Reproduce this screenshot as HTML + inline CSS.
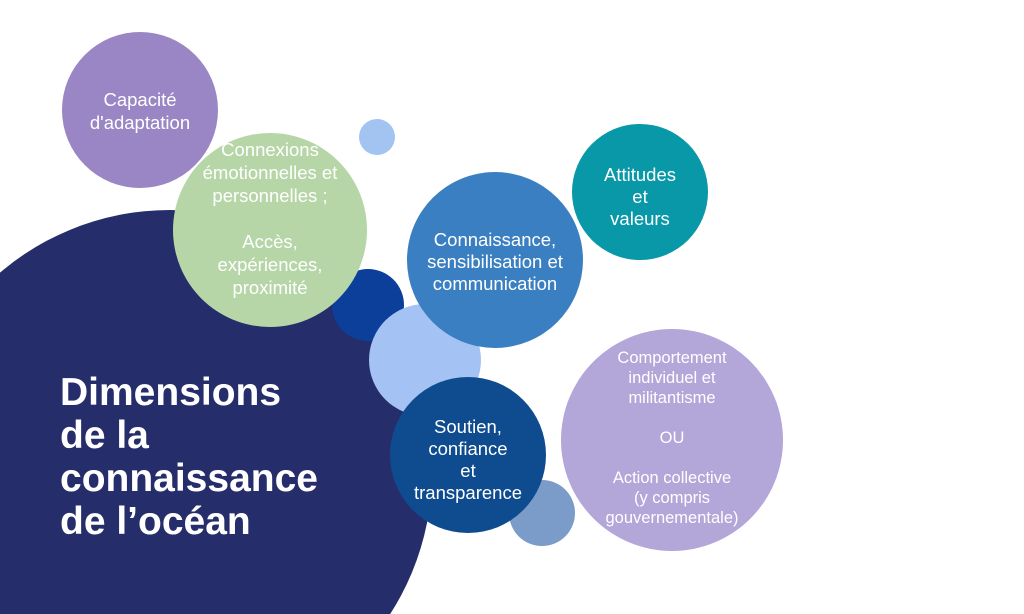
<!DOCTYPE html>
<html><head><meta charset="utf-8"><style>
html,body{margin:0;padding:0;background:#fff;width:1024px;height:614px;overflow:hidden;}
svg{display:block;font-family:"Liberation Sans",sans-serif;}
</style></head><body>
<svg width="1024" height="614" viewBox="0 0 1024 614">
<circle cx="170" cy="472" r="262" fill="#262d6b"/>
<circle cx="140" cy="110" r="78" fill="#9a86c5"/>
<circle cx="377" cy="137" r="18" fill="#a3c4f0"/>
<circle cx="368" cy="305" r="36" fill="#0b3f9a"/>
<circle cx="270" cy="230" r="97" fill="#b6d6a7"/>
<circle cx="425" cy="360" r="56" fill="#a4c2f4"/>
<circle cx="495" cy="260" r="88" fill="#3a7fc1"/>
<circle cx="640" cy="192" r="68" fill="#0898a8"/>
<circle cx="542" cy="513" r="33" fill="#7b9cc9"/>
<circle cx="672" cy="440" r="111" fill="#b3a6d8"/>
<circle cx="468" cy="455" r="78" fill="#0e4c8f"/>
<g fill="#fff" text-anchor="middle" font-size="18.5">
<text x="140" y="106">Capacité</text>
<text x="140" y="129">d'adaptation</text>
<text x="270" y="156">Connexions</text>
<text x="270" y="179">émotionnelles et</text>
<text x="270" y="202">personnelles ;</text>
<text x="270" y="248">Accès,</text>
<text x="270" y="271">expériences,</text>
<text x="270" y="294">proximité</text>
<text x="495" y="246">Connaissance,</text>
<text x="495" y="268">sensibilisation et</text>
<text x="495" y="290">communication</text>
<text x="640" y="181">Attitudes</text>
<text x="640" y="203">et</text>
<text x="640" y="225">valeurs</text>
<text x="468" y="433">Soutien,</text>
<text x="468" y="455">confiance</text>
<text x="468" y="477">et</text>
<text x="468" y="499">transparence</text>
<g font-size="16.5">
<text x="672" y="363">Comportement</text>
<text x="672" y="383">individuel et</text>
<text x="672" y="403">militantisme</text>
<text x="672" y="443">OU</text>
<text x="672" y="483">Action collective</text>
<text x="672" y="503">(y compris</text>
<text x="672" y="523">gouvernementale)</text>
</g>
</g>
<g fill="#fff" font-size="39" font-weight="bold">
<text x="60" y="405">Dimensions</text>
<text x="60" y="448">de la</text>
<text x="60" y="491">connaissance</text>
<text x="60" y="534">de l’océan</text>
</g>
</svg>
</body></html>
